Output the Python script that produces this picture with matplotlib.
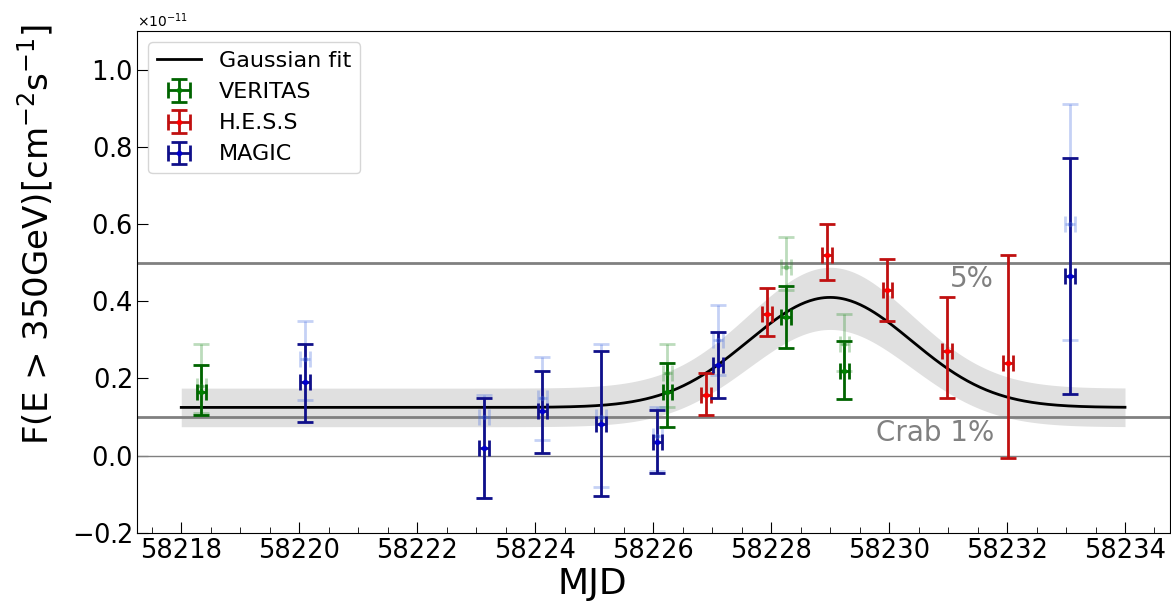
import numpy as np
import matplotlib.pyplot as plt
from matplotlib.ticker import MultipleLocator

scale = 1e-11

# VERITAS
ver_mjd = [58218.34, 58226.24, 58228.25, 58229.24]
ver_flux = [0.166, 0.166, 0.36, 0.22]
ver_lo = [0.060, 0.091, 0.08, 0.074]
ver_hi = [0.068, 0.074, 0.08, 0.077]
ver_flux2 = [0.18, 0.215, 0.488, 0.29]
ver_lo2 = [0.07, 0.09, 0.06, 0.07]
ver_hi2 = [0.11, 0.075, 0.078, 0.076]

# H.E.S.S
hess_mjd = [58226.90, 58227.93, 58228.95, 58229.97, 58230.98, 58232.02]
hess_flux = [0.158, 0.366, 0.52, 0.43, 0.27, 0.24]
hess_lo = [0.052, 0.056, 0.066, 0.08, 0.12, 0.245]
hess_hi = [0.055, 0.068, 0.08, 0.08, 0.14, 0.28]

# MAGIC
mag_mjd = [58220.10, 58223.13, 58224.12, 58225.12, 58226.07, 58227.10, 58233.07]
mag_flux = [0.19, 0.02, 0.115, 0.083, 0.036, 0.236, 0.465]
mag_lo = [0.102, 0.13, 0.107, 0.188, 0.081, 0.086, 0.305]
mag_hi = [0.10, 0.13, 0.105, 0.187, 0.082, 0.084, 0.305]
mag_flux2 = [0.25, 0.10, 0.15, 0.10, 0.05, 0.30, 0.60]
mag_lo2 = [0.105, 0.21, 0.11, 0.18, 0.09, 0.09, 0.30]
mag_hi2 = [0.10, 0.058, 0.105, 0.19, 0.077, 0.09, 0.31]

x_err = 0.08

# Gaussian fit parameters
fit_base, fit_amp, fit_mu, fit_sig = 0.125, 0.285, 58229.0, 1.38
band_up_base, band_up_amp = 0.175, 0.313
band_lo_base, band_lo_amp = 0.075, 0.252

plt.rcParams['font.family'] = ['DejaVu Sans']

fig = plt.figure(figsize=(11.71, 6.09), dpi=100)
ax = fig.add_axes([0.117, 0.125, 0.882, 0.824])

t = np.linspace(58218, 58234, 600)
g = np.exp(-(t - fit_mu) ** 2 / (2 * fit_sig ** 2))
ax.fill_between(t, (band_lo_base + band_lo_amp * g) * scale,
                (band_up_base + band_up_amp * g) * scale,
                color='lightgray', alpha=0.7, lw=0, zorder=1)
ax.plot(t, (fit_base + fit_amp * g) * scale, color='black', lw=2,
        label='Gaussian fit', zorder=4)

ax.axhline(0.5 * scale, color='gray', lw=2, zorder=2)
ax.axhline(0.1 * scale, color='gray', lw=2, zorder=2)
ax.axhline(0.0, color='gray', lw=1, zorder=2)


def pts(mjd, f, lo, hi, col, ecol, alpha=1.0, label=None):
    ax.errorbar(mjd, np.array(f) * scale,
                yerr=[np.array(lo) * scale, np.array(hi) * scale],
                xerr=x_err, fmt='.', color=col, ecolor=ecol, mfc=col, mec=col,
                ms=6, elinewidth=2, capsize=6, capthick=2, alpha=alpha,
                label=label, zorder=5)


pts(ver_mjd, ver_flux2, ver_lo2, ver_hi2, 'forestgreen', 'forestgreen', alpha=0.3)
pts(mag_mjd, mag_flux2, mag_lo2, mag_hi2, 'royalblue', 'royalblue', alpha=0.3)
pts(ver_mjd, ver_flux, ver_lo, ver_hi, 'green', 'darkgreen', label='VERITAS')
pts(hess_mjd, hess_flux, hess_lo, hess_hi, 'red', '#c01010', label='H.E.S.S')
pts(mag_mjd, mag_flux, mag_lo, mag_hi, 'mediumblue', '#10108a', label='MAGIC')

ax.text(58231.41, 0.457 * scale, '5%', color='gray', fontsize=20,
        ha='center', va='center')
ax.text(58230.78, 0.06 * scale, 'Crab 1%', color='gray', fontsize=20,
        ha='center', va='center')

ax.set_xlim(58217.25, 58234.76)
ax.set_ylim(-0.2 * scale, 1.1 * scale)
ax.xaxis.set_major_locator(MultipleLocator(2))
ax.xaxis.set_minor_locator(MultipleLocator(0.5))
ax.ticklabel_format(axis='y', useMathText=True)
ax.ticklabel_format(axis='x', useOffset=False)
ax.tick_params(which='both', direction='in', labelsize=18.5)
ax.tick_params(which='major', length=8)
ax.tick_params(which='minor', length=4)
ax.yaxis.get_offset_text().set_fontsize(10)

ax.set_xlabel('MJD', fontsize=26)
ax.set_ylabel(r'F(E > 350GeV)[cm$^{-2}$s$^{-1}$]', fontsize=24.5)
ax.xaxis.set_label_coords(0.441, -0.068)
ax.yaxis.set_label_coords(-0.079, 0.594)

ax.legend(loc='upper left', fontsize=16)

fig.savefig('out.png', dpi=100)
